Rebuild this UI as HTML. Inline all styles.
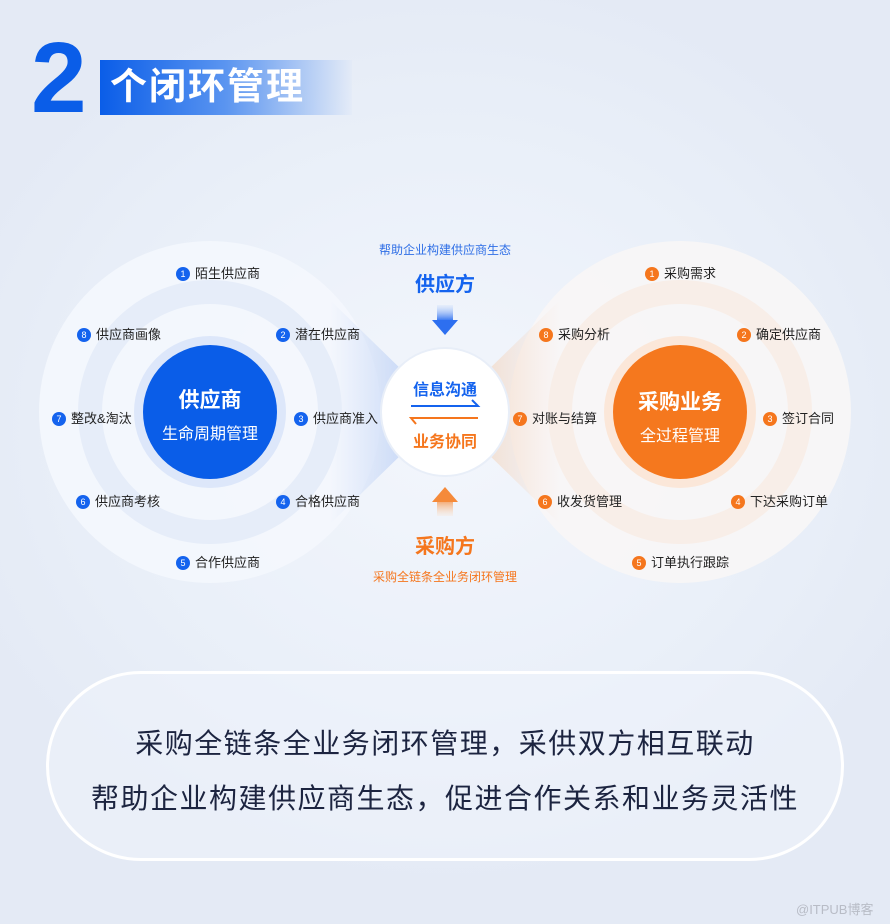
<!DOCTYPE html>
<html><head><meta charset="utf-8"><style>
*{margin:0;padding:0;box-sizing:border-box}
body{width:890px;height:924px;overflow:hidden;font-family:"Liberation Sans","Noto Sans CJK SC",sans-serif;background:radial-gradient(ellipse 520px 460px at 445px 430px,#f3f6fc 0%,#eaf0f9 60%,#e4eaf5 100%);position:relative}
.a{position:absolute}
.lb{position:absolute;font-size:13px;color:#222;white-space:nowrap;line-height:16px;display:flex;align-items:center}
.lb i{font-style:normal;display:inline-block;width:14px;height:14px;border-radius:50%;color:#fff;font-size:9px;text-align:center;line-height:14px;margin-right:5px}
.b i{background:#1463ee}.o i{background:#f5761d}
</style></head><body>
<div class="a" style="left:31px;top:28px;font-size:100px;font-weight:bold;color:#0a5de8;line-height:100px">2</div>
<div class="a" style="left:100px;top:60px;width:252px;height:55px;background:linear-gradient(90deg,#0a5de8 0%,#5b95f0 50%,rgba(220,230,248,0.3) 100%)"></div>
<div class="a" style="left:110px;top:62px;font-size:37px;color:#fff;line-height:50px;letter-spacing:2px;font-weight:bold">个闭环管理</div>

<svg class="a" style="left:0;top:0" width="890" height="924">
<defs>
<linearGradient id="lg" x1="0" x2="1"><stop offset="0" stop-color="#b8cdf5" stop-opacity="0"/><stop offset="1" stop-color="#a9c3f3" stop-opacity="0.9"/></linearGradient>
<linearGradient id="rg" x1="1" x2="0"><stop offset="0" stop-color="#f5d6bf" stop-opacity="0"/><stop offset="1" stop-color="#f3cfb3" stop-opacity="0.9"/></linearGradient>
<linearGradient id="da" x1="0" y1="0" x2="0" y2="1"><stop offset="0" stop-color="#cfe0fb" stop-opacity="0.3"/><stop offset="1" stop-color="#2d6ff0"/></linearGradient>
<linearGradient id="ua" x1="0" y1="1" x2="0" y2="0"><stop offset="0" stop-color="#fbe2cc" stop-opacity="0.3"/><stop offset="1" stop-color="#f58a3a"/></linearGradient>
</defs>
<circle cx="210" cy="412" r="171" fill="#f4f7fd" opacity="0.9"/>
<circle cx="680" cy="412" r="171" fill="#f8f6f6" opacity="0.9"/>
<polygon points="330,300 445,412 330,524" fill="url(#lg)"/>
<polygon points="560,300 445,412 560,524" fill="url(#rg)"/>
<circle cx="210" cy="412" r="120" fill="none" stroke="#e6edf9" stroke-width="24"/>
<circle cx="680" cy="412" r="120" fill="none" stroke="#f8eee8" stroke-width="24"/>
<circle cx="210" cy="412" r="76" fill="#dde7fa"/>
<circle cx="680" cy="412" r="76" fill="#fbe7d9"/>
<circle cx="210" cy="412" r="67" fill="#0a5de8"/>
<circle cx="680" cy="412" r="67" fill="#f5781e"/>
<circle cx="445" cy="412" r="64" fill="#fff" stroke="#e8eef8" stroke-width="2"/>
<rect x="437" y="305" width="16" height="16" fill="url(#da)"/>
<polygon points="432,320 458,320 445,335" fill="#2d6ff0"/>
<rect x="437" y="500" width="16" height="16" fill="url(#ua)" opacity="0.8"/>
<polygon points="432,502 458,502 445,487" fill="#f58a3a"/>
<path d="M411 406 H478 L472 400" stroke="#1463ee" stroke-width="2" fill="none"/>
<path d="M478 418 H411 L416 424" stroke="#f5761d" stroke-width="2" fill="none"/>
</svg>

<div class="a" style="left:143px;top:384px;width:134px;text-align:center;color:#fff;font-size:21px;font-weight:bold">供应商</div>
<div class="a" style="left:143px;top:420px;width:134px;text-align:center;color:#fff;font-size:16px">生命周期管理</div>
<div class="a" style="left:613px;top:386px;width:134px;text-align:center;color:#fff;font-size:21px;font-weight:bold">采购业务</div>
<div class="a" style="left:613px;top:422px;width:134px;text-align:center;color:#fff;font-size:16px">全过程管理</div>
<div class="a" style="left:382px;top:376px;width:126px;text-align:center;color:#1463ee;font-size:16px;font-weight:bold">信息沟通</div>
<div class="a" style="left:382px;top:428px;width:126px;text-align:center;color:#f5761d;font-size:16px;font-weight:bold">业务协同</div>

<div class="a" style="left:345px;top:241px;width:200px;text-align:center;color:#2f6fe6;font-size:12px">帮助企业构建供应商生态</div>
<div class="a" style="left:345px;top:268px;width:200px;text-align:center;color:#1463ee;font-size:20px;font-weight:bold">供应方</div>
<div class="a" style="left:345px;top:530px;width:200px;text-align:center;color:#f5761d;font-size:20px;font-weight:bold">采购方</div>
<div class="a" style="left:325px;top:568px;width:240px;text-align:center;color:#f5761d;font-size:12px">采购全链条全业务闭环管理</div>

<div class="lb b" style="left:176px;top:266px"><i>1</i>陌生供应商</div>
<div class="lb b" style="left:276px;top:327px"><i>2</i>潜在供应商</div>
<div class="lb b" style="left:294px;top:411px"><i>3</i>供应商准入</div>
<div class="lb b" style="left:276px;top:494px"><i>4</i>合格供应商</div>
<div class="lb b" style="left:176px;top:555px"><i>5</i>合作供应商</div>
<div class="lb b" style="left:76px;top:494px"><i>6</i>供应商考核</div>
<div class="lb b" style="left:52px;top:411px"><i>7</i>整改&amp;淘汰</div>
<div class="lb b" style="left:77px;top:327px"><i>8</i>供应商画像</div>

<div class="lb o" style="left:645px;top:266px"><i>1</i>采购需求</div>
<div class="lb o" style="left:737px;top:327px"><i>2</i>确定供应商</div>
<div class="lb o" style="left:763px;top:411px"><i>3</i>签订合同</div>
<div class="lb o" style="left:731px;top:494px"><i>4</i>下达采购订单</div>
<div class="lb o" style="left:632px;top:555px"><i>5</i>订单执行跟踪</div>
<div class="lb o" style="left:538px;top:494px"><i>6</i>收发货管理</div>
<div class="lb o" style="left:513px;top:411px"><i>7</i>对账与结算</div>
<div class="lb o" style="left:539px;top:327px"><i>8</i>采购分析</div>

<div class="a" style="left:46px;top:671px;width:798px;height:190px;border:3px solid #fff;border-radius:95px;background:rgba(240,244,251,0.5)"></div>
<div class="a" style="left:46px;top:722px;width:798px;text-align:center;font-size:28px;color:#1c2440;letter-spacing:1.5px">采购全链条全业务闭环管理，采供双方相互联动</div>
<div class="a" style="left:46px;top:777px;width:798px;text-align:center;font-size:28px;color:#1c2440;letter-spacing:1.5px">帮助企业构建供应商生态，促进合作关系和业务灵活性</div>
<div class="a" style="left:796px;top:899px;font-size:13px;color:#b8bcc6">@ITPUB博客</div>
</body></html>
